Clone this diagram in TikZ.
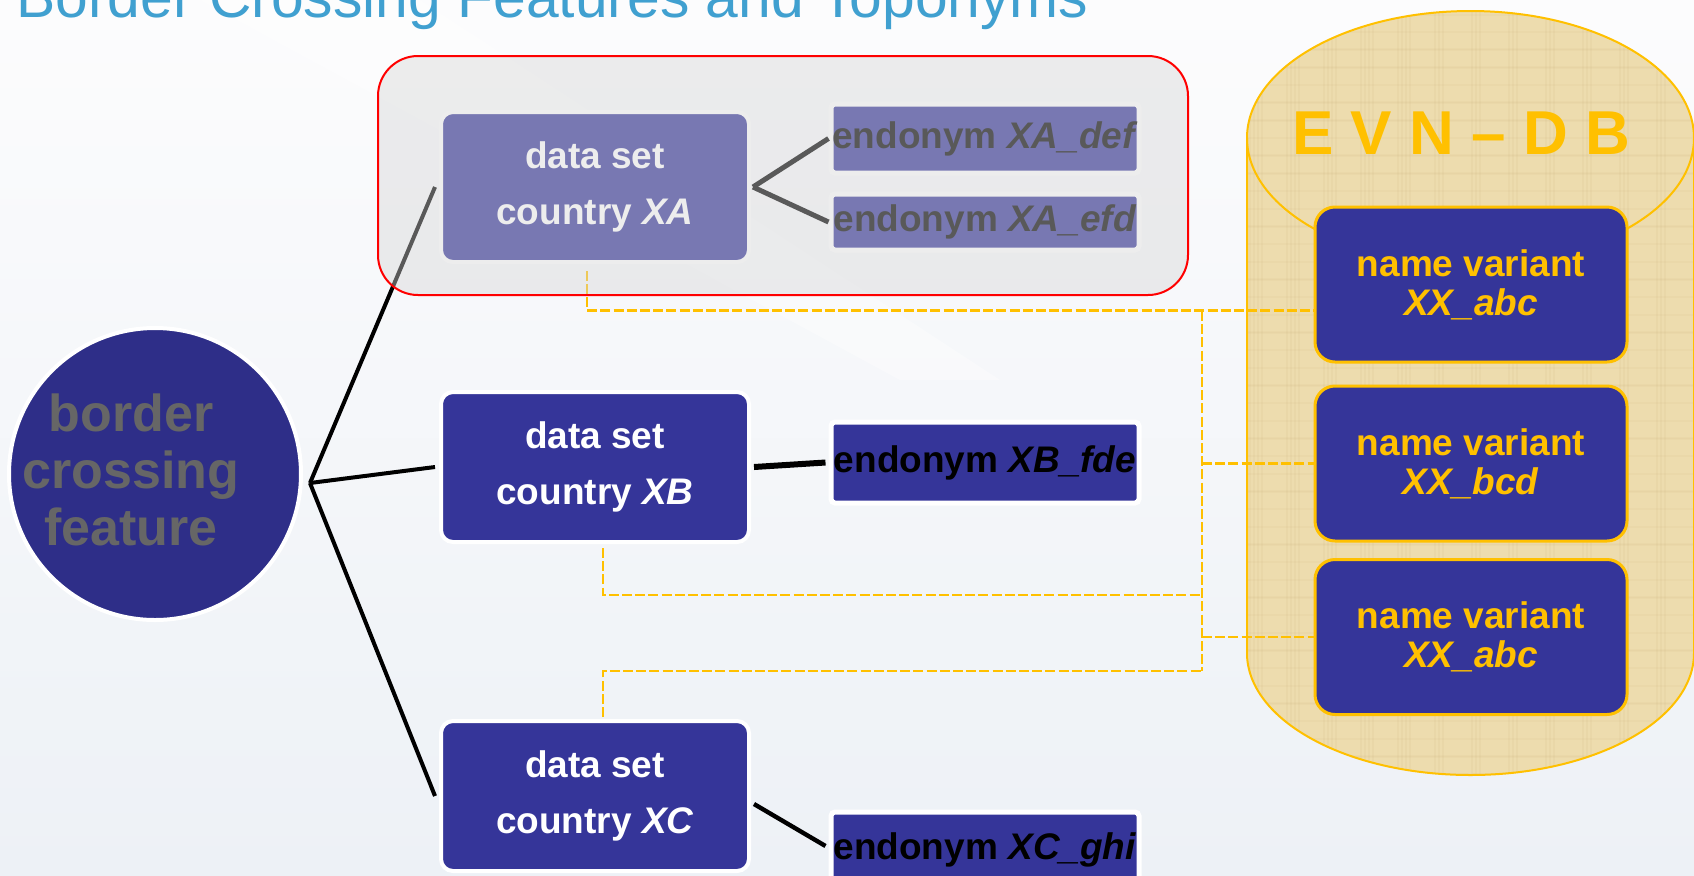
\documentclass[tikz,border=0pt]{standalone}
\usepackage{fontspec}
\setmainfont{Liberation Sans}
\usetikzlibrary{calc}
\definecolor{titleblue}{RGB}{64,160,208}
\definecolor{navy}{RGB}{46,46,136}
\definecolor{boxblue}{RGB}{53,53,153}
\definecolor{gold}{RGB}{255,192,0}
\definecolor{papyrus}{RGB}{237,220,174}
\definecolor{fibre}{RGB}{200,175,120}
\definecolor{circtext}{RGB}{102,102,102}
\definecolor{bgtop}{RGB}{252,252,253}
\definecolor{bgbot}{RGB}{237,241,246}
\definecolor{veil}{RGB}{214,214,214}
\begin{document}
\begin{tikzpicture}[x=0.5pt,y=-0.5pt,
  dsbox/.style={rectangle, rounded corners=6pt, fill=boxblue, draw=white, line width=2pt,
    minimum width=154pt, minimum height=75pt, inner sep=0pt, align=center, text=white,
    font=\bfseries\fontsize{18.5}{28}\selectfont},
  endobox/.style={rectangle, rounded corners=2pt, fill=boxblue, draw=white, line width=2.5pt,
    minimum width=154pt, inner sep=0pt, text=black, font=\bfseries\fontsize{18.5}{22}\selectfont},
  nvbox/.style={rectangle, rounded corners=10pt, fill=boxblue, draw=gold, line width=1.5pt,
    minimum width=156pt, minimum height=77.5pt, inner sep=0pt, align=center, text=gold,
    font=\bfseries\fontsize{18.5}{19.5}\selectfont},
  link/.style={line width=2pt, black},
  goldash/.style={gold, line width=1.3pt, dash pattern=on 5pt off 1.6pt},
]
\useasboundingbox (0,0) rectangle (1694,875);
\shade[top color=bgtop, bottom color=bgbot] (0,0) rectangle (1694,875);
\fill[white, opacity=0.35] (200,0) -- (420,0) -- (1000,380) -- (900,380) -- cycle;

% title
\node[anchor=base west, inner sep=0pt, text=titleblue, font=\fontsize{29.4}{29.4}\selectfont]
  (title) at (16,17) {Border Crossing Features and Toponyms};

% database cylinder
\path[save path=\cylpath] (1247,138) -- (1247,653)
  arc[start angle=180, end angle=0, x radius=223.5, y radius=122] -- (1694,138)
  arc[start angle=0, end angle=-180, x radius=223.5, y radius=127] -- cycle;
\fill[papyrus, use path=\cylpath];
\begin{scope}
  \clip[use path=\cylpath];
  \foreach \i in {0,...,40} {
    \pgfmathsetmacro{\xx}{1250+mod(\i*37,440)}
    \draw[fibre, opacity=0.10, line width=1pt] (\xx,10) -- (\xx,780);
  }
  \foreach \i in {0,...,60} {
    \pgfmathsetmacro{\yy}{15+mod(\i*53,760)}
    \draw[fibre, opacity=0.08, line width=1pt] (1248,\yy) -- (1694,\yy);
  }
\end{scope}
\draw[gold, line width=1pt] (1247,138) -- (1247,653)
  arc[start angle=180, end angle=0, x radius=223.5, y radius=122] -- (1694,138);
\draw[gold, line width=1pt] (1470.5,138) ellipse[x radius=223.5, y radius=127];
\node[text=gold, inner sep=0pt, font=\bfseries\fontsize{31}{31}\selectfont] (evn) at (1461,133) {E V N – D B};

% central feature
\node[circle, fill=navy, draw=white, line width=2pt, minimum size=146pt, inner sep=0pt] (circ) at (155,474) {};
\node[align=center, text=circtext, inner sep=0pt, font=\bfseries\fontsize{26}{28.5}\selectfont]
  (circlabel) at (131,470) {border\\crossing\\feature};

% data sets
\node[dsbox] (XA) at (595,187) {data set\\country \textit{XA}};
\node[dsbox] (XB) at (595,467) {data set\\country \textit{XB}};
\node[dsbox] (XC) at (595,796) {data set\\country \textit{XC}};

% endonyms
\node[endobox, minimum height=34.5pt] (eA1) at (985,138.5) {\raisebox{-2pt}{endonym \textit{XA\_def}}};
\node[endobox, minimum height=28pt] (eA2) at (985,222) {endonym \textit{XA\_efd}};
\node[endobox, minimum height=40.5pt] (eB) at (985,462.5) {endonym \textit{XB\_fde}};
\node[endobox, minimum height=38pt] (eC) at (985,850) {endonym \textit{XC\_ghi}};

% name variants
\node[nvbox] (nv1) at (1471,284.5) {name variant\\\textit{XX\_abc}};
\node[nvbox] (nv2) at (1471,463.5) {name variant\\\textit{XX\_bcd}};
\node[nvbox] (nv3) at (1471,637) {name variant\\\textit{XX\_abc}};

% connectors
\coordinate (hub) at (310,483);
\draw[link] (hub) -- ([xshift=-2pt]XA.west);
\draw[link] (hub) -- ([xshift=-2pt]XB.west);
\draw[link] (hub) -- ([xshift=-2pt]XC.west);
\draw[black, line width=2.5pt] ([xshift=1pt]XA.east) -- (eA1.west);
\draw[black, line width=2.5pt] ([xshift=1pt]XA.east) -- (eA2.west);
\draw[black, line width=3pt] ([xshift=1.5pt]XB.east) -- ([xshift=-1.5pt]eB.west);
\draw[black, line width=2.2pt] ([xshift=1.5pt,yshift=-4pt]XC.east) -- ([xshift=-1.5pt,yshift=2pt]eC.west);

% dashed links to the database
\coordinate (j1) at (1202,311);
\coordinate (j3) at (1202,595);
\coordinate (j4) at (1202,671);
\draw[goldash] ([xshift=-4pt,yshift=-3.5pt]XA.south) |- ([yshift=-13pt]nv1.west);
\draw[goldash] (j1) -- (j4);
\draw[goldash] (j1 |- nv2.west) -- (nv2.west);
\draw[goldash] (j1 |- nv3.west) -- (nv3.west);
\draw[goldash] ([xshift=4pt,yshift=-2pt]XB.south) |- (j3);
\draw[goldash] ([xshift=4pt,yshift=1pt]XC.north) |- (j4);

% highlighted group
\path[fill=veil, fill opacity=0.42, draw=red, line width=1pt, rounded corners=20pt]
  (378,56) rectangle (1188,295);
\end{tikzpicture}
\end{document}
